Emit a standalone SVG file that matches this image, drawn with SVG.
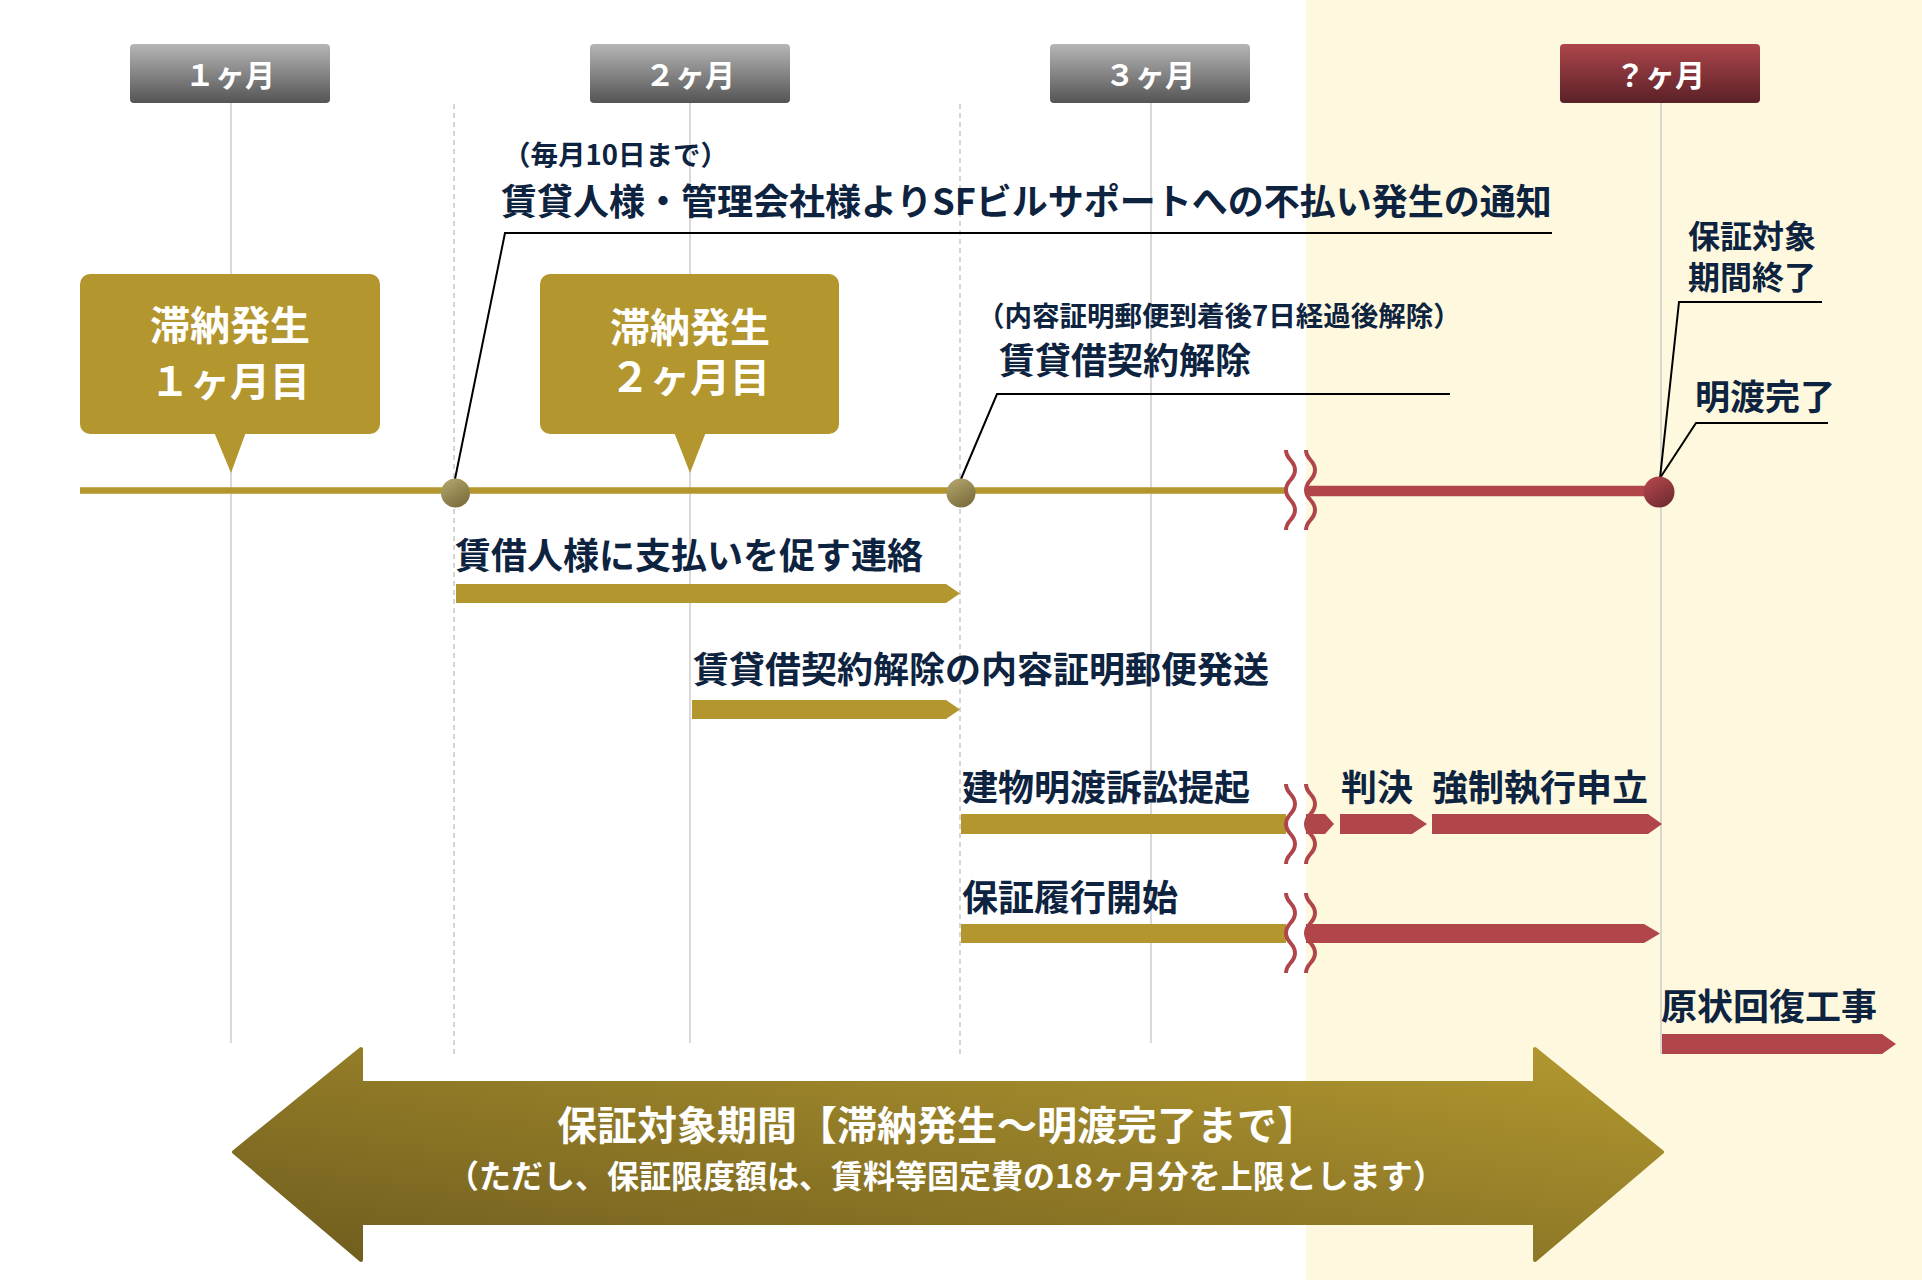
<svg xmlns="http://www.w3.org/2000/svg" xmlns:xlink="http://www.w3.org/1999/xlink" width="1922" height="1280" viewBox="0 0 1922 1280">
<style>
.t{font-family:"Noto Sans CJK JP","Noto Sans",sans-serif;font-weight:700;}
.dk{fill:#0d2340;}
.wh{fill:#ffffff;}
.vl{stroke:#cccccc;stroke-width:1.5;fill:none;}
.dl{stroke:#c8c8c8;stroke-width:1.5;stroke-dasharray:5 4;fill:none;}
.lead{stroke:#000000;stroke-width:2;fill:none;}
.gold{fill:#b4962e;}
.red{fill:#b0454a;}
</style>
<defs>
<linearGradient id="gGray" x1="0" y1="0" x2="0" y2="1"><stop offset="0" stop-color="#b6b6b6"/><stop offset="1" stop-color="#545454"/></linearGradient>
<linearGradient id="gRed" x1="0" y1="0" x2="0" y2="1"><stop offset="0" stop-color="#ad464c"/><stop offset="1" stop-color="#5a2126"/></linearGradient>
<linearGradient id="gDotGold" x1="0.2" y1="0" x2="0.8" y2="1"><stop offset="0" stop-color="#b2a46a"/><stop offset="1" stop-color="#776a3a"/></linearGradient>
<linearGradient id="gDotRed" x1="0.2" y1="0" x2="0.8" y2="1"><stop offset="0" stop-color="#b4474d"/><stop offset="1" stop-color="#6e2a2f"/></linearGradient>
<linearGradient id="gArrow" x1="0" y1="1" x2="1" y2="0"><stop offset="0" stop-color="#6e5c1e"/><stop offset="1" stop-color="#b39930"/></linearGradient>
<path id="wave" d="M0,-40 C0,-30 9,-30 9,-20 C9,-10 0,-10 0,0 C0,10 9,10 9,20 C9,30 0,30 0,40" fill="none" stroke="#b0454a" stroke-width="4"/>
</defs>

<rect x="0" y="0" width="1922" height="1280" fill="#ffffff"/>
<rect id="cream-panel" x="1306" y="0" width="616" height="1280" fill="#fef9de"/>

<g id="grid">
<line class="vl" x1="231" y1="103" x2="231" y2="1043"/>
<line class="vl" x1="690" y1="103" x2="690" y2="1043"/>
<line class="vl" x1="1151" y1="103" x2="1151" y2="1043"/>
<line class="vl" x1="1661" y1="103" x2="1661" y2="1054"/>
<line class="dl" x1="454" y1="104" x2="454" y2="1054"/>
<line class="dl" x1="960" y1="104" x2="960" y2="1054"/>
</g>

<g id="month-1"><rect x="130" y="44" width="200" height="59" rx="4" fill="url(#gGray)"/><text class="t wh" x="230" y="86" font-size="30" text-anchor="middle">１ヶ月</text></g>
<g id="month-2"><rect x="590" y="44" width="200" height="59" rx="4" fill="url(#gGray)"/><text class="t wh" x="690" y="86" font-size="30" text-anchor="middle">２ヶ月</text></g>
<g id="month-3"><rect x="1050" y="44" width="200" height="59" rx="4" fill="url(#gGray)"/><text class="t wh" x="1150" y="86" font-size="30" text-anchor="middle">３ヶ月</text></g>
<g id="month-x"><rect x="1560" y="44" width="200" height="59" rx="4" fill="url(#gRed)"/><text class="t wh" x="1660" y="86" font-size="30" text-anchor="middle">？ヶ月</text></g>

<g id="callout-1">
<rect class="gold" x="80" y="274" width="300" height="160" rx="10"/>
<polygon class="gold" points="214,432 246,432 231,473"/>
<text class="t wh" x="230" y="340" font-size="40" text-anchor="middle">滞納発生</text>
<text class="t wh" x="230" y="396" font-size="40" text-anchor="middle">１ヶ月目</text>
</g>
<g id="callout-2">
<rect class="gold" x="540" y="274" width="299" height="160" rx="10"/>
<polygon class="gold" points="674,432 706,432 690,473"/>
<text class="t wh" x="690" y="342" font-size="40" text-anchor="middle">滞納発生</text>
<text class="t wh" x="690" y="392" font-size="40" text-anchor="middle">２ヶ月目</text>
</g>

<g id="connectors">
<line x1="80" y1="490.5" x2="1286" y2="490.5" stroke="#b4962e" stroke-width="6.5"/>
<line x1="1306" y1="491" x2="1661" y2="491" stroke="#b0454a" stroke-width="10.5"/>
<polyline class="lead" points="455,479 505,233 1552,233"/>
<polyline class="lead" points="961,479 997,394 1450,394"/>
<polyline class="lead" points="1660,478 1679,302 1822,302"/>
<polyline class="lead" points="1660,478 1696,423 1828,423"/>
<use xlink:href="#wave" href="#wave" x="1286" y="490"/>
<use xlink:href="#wave" href="#wave" x="1306" y="490"/>
</g>

<g id="milestone-1"><circle cx="455.5" cy="493" r="14.5" fill="url(#gDotGold)"/></g>
<g id="milestone-2"><circle cx="961" cy="493" r="14.5" fill="url(#gDotGold)"/></g>
<g id="milestone-end"><circle cx="1659" cy="492" r="15.5" fill="url(#gDotRed)"/></g>

<g id="label-notice">
<text class="t dk" x="503" y="165" font-size="27.5">（毎月10日まで）</text>
<text class="t dk" x="501" y="215" font-size="36">賃貸人様・管理会社様よりSFビルサポートへの不払い発生の通知</text>
</g>
<g id="label-cancel">
<text class="t dk" x="977" y="326" font-size="27.5">（内容証明郵便到着後7日経過後解除）</text>
<text class="t dk" x="999" y="374" font-size="36">賃貸借契約解除</text>
</g>
<g id="label-end">
<text class="t dk" x="1688" y="248" font-size="32">保証対象</text>
<text class="t dk" x="1688" y="289" font-size="32">期間終了</text>
</g>
<g id="label-handover">
<text class="t dk" x="1695" y="410" font-size="35">明渡完了</text>
</g>

<g id="task-contact">
<text class="t dk" x="455" y="569" font-size="36">賃借人様に支払いを促す連絡</text>
<polygon class="gold" points="456,584 946,584 960,593.5 946,603 456,603"/>
</g>
<g id="task-mail">
<text class="t dk" x="693" y="683" font-size="36">賃貸借契約解除の内容証明郵便発送</text>
<polygon class="gold" points="692,700 946,700 960,709.5 946,719 692,719"/>
</g>
<g id="task-lawsuit">
<text class="t dk" x="962" y="801" font-size="36">建物明渡訴訟提起</text>
<rect class="gold" x="961" y="814" width="325" height="20"/>
<polygon class="red" points="1306,814 1325,814 1334,824 1325,834 1306,834"/>
<use xlink:href="#wave" href="#wave" x="1286" y="824"/>
<use xlink:href="#wave" href="#wave" x="1306" y="824"/>
</g>
<g id="task-judgment">
<text class="t dk" x="1341" y="801" font-size="36">判決</text>
<polygon class="red" points="1340,814 1412,814 1427,824 1412,834 1340,834"/>
</g>
<g id="task-enforce">
<text class="t dk" x="1432" y="801" font-size="36">強制執行申立</text>
<polygon class="red" points="1432,814 1648,814 1662,824 1648,834 1432,834"/>
</g>
<g id="task-guarantee">
<text class="t dk" x="962" y="911" font-size="36">保証履行開始</text>
<rect class="gold" x="961" y="924" width="325" height="19"/>
<polygon class="red" points="1306,924 1644,924 1660,933.5 1644,943 1306,943"/>
<use xlink:href="#wave" href="#wave" x="1286" y="933"/>
<use xlink:href="#wave" href="#wave" x="1306" y="933"/>
</g>
<g id="task-restore">
<text class="t dk" x="1661" y="1020" font-size="36">原状回復工事</text>
<polygon class="red" points="1662,1034 1882,1034 1896,1044 1882,1054 1662,1054"/>
</g>

<g id="period-arrow">
<polygon points="234,1152 361,1049 361,1083 1535,1083 1535,1049 1662,1152 1535,1260 1535,1223 361,1223 361,1260" fill="url(#gArrow)" stroke="url(#gArrow)" stroke-width="4" stroke-linejoin="round"/>
<text class="t wh" x="937" y="1140" font-size="40" text-anchor="middle">保証対象期間【滞納発生～明渡完了まで】</text>
<text class="t wh" x="946" y="1188" font-size="32" text-anchor="middle">（ただし、保証限度額は、賃料等固定費の18ヶ月分を上限とします）</text>
</g>
</svg>
